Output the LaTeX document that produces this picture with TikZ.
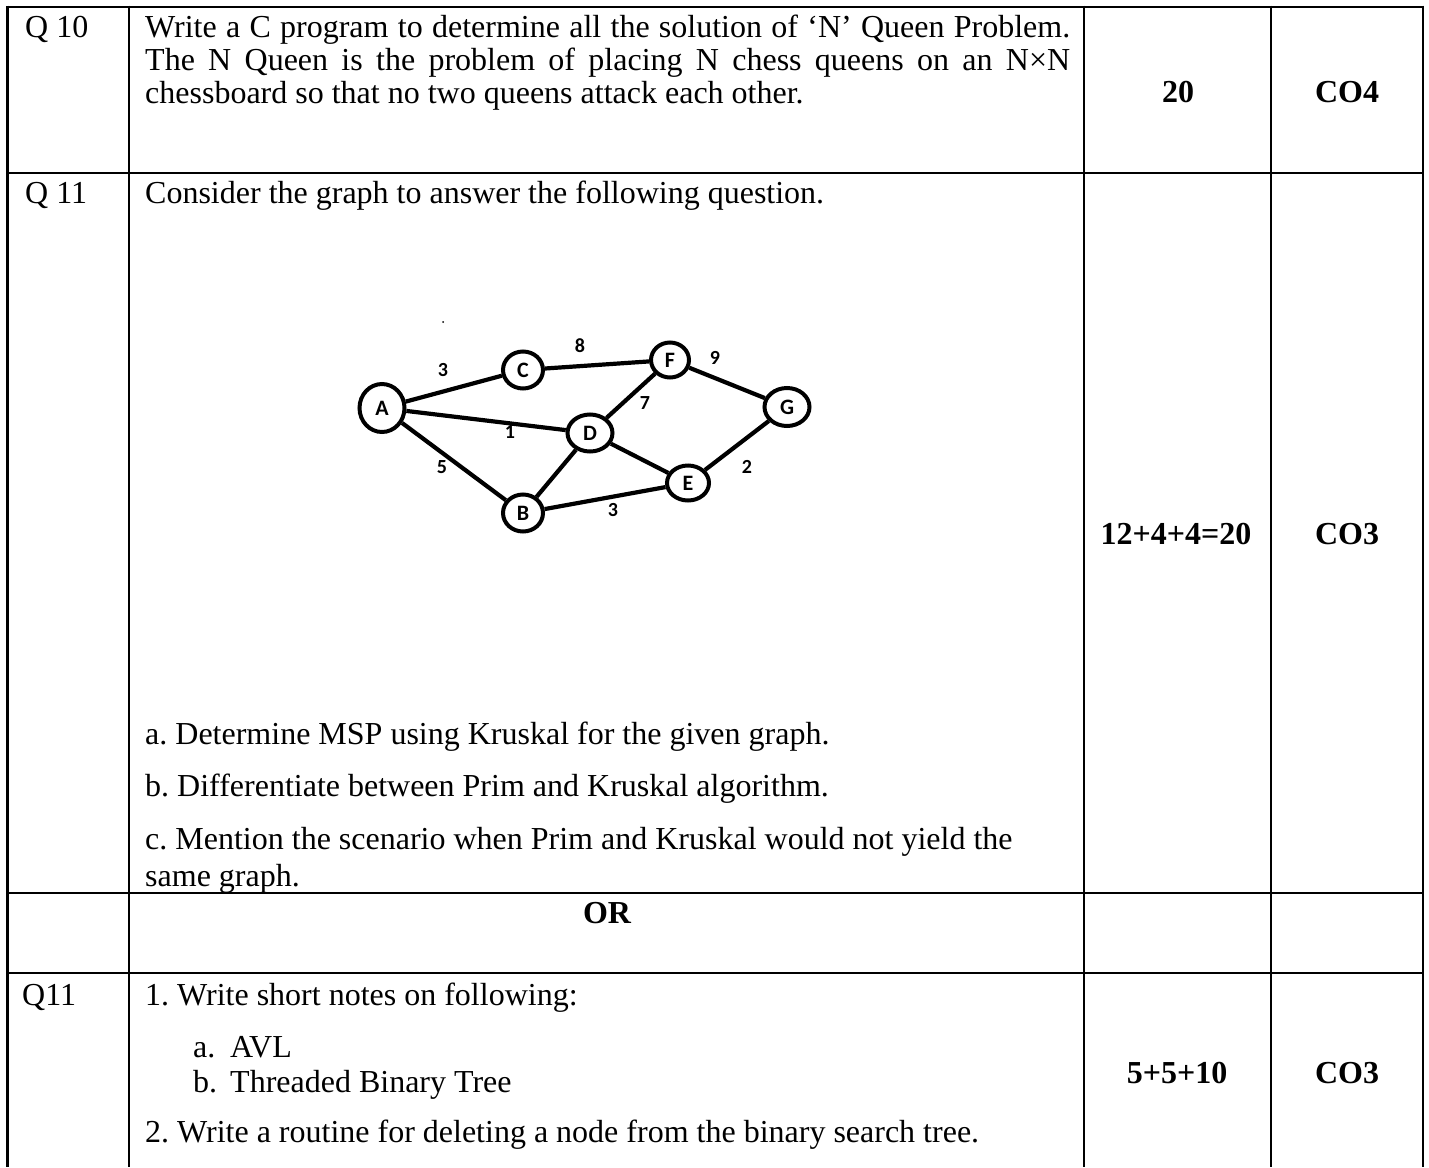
\documentclass[tikz,border=0pt]{standalone}
\usepackage{fontspec}
\setmainfont{Liberation Serif}
\newfontfamily\gfont{Carlito}
\usetikzlibrary{shapes.geometric}
\newcommand{\tr}{\fontsize{32}{33}\selectfont\frenchspacing}
\newcommand{\gr}{\gfont\bfseries\fontsize{20}{20}\selectfont}
\newcommand{\gv}{\gfont\bfseries\fontsize{22}{22}\selectfont}
\begin{document}
\begin{tikzpicture}[x=1pt,y=-1pt,
  tbl/.style={line width=2.7pt},
  txt/.style={anchor=base west,inner sep=0pt,font=\tr},
  bld/.style={anchor=base,inner sep=0pt,font=\tr\bfseries},
  vtx/.style={draw,ellipse,line width=4pt,inner sep=0pt,font=\gv},
  edg/.style={line width=4.2pt},
  wt/.style={inner sep=0pt,font=\gr}]
\useasboundingbox (0,0) rectangle (1429,1167);
% table grid
\draw[tbl] (7.5,7) -- (1423,7);
\draw[tbl] (7.5,173) -- (1423,173);
\draw[tbl] (7.5,893) -- (1423,893);
\draw[tbl] (7.5,973) -- (1423,973);
\draw[tbl] (7.5,5.7) -- (7.5,1167);
\draw[tbl] (129,5.7) -- (129,1167);
\draw[tbl] (1084,5.7) -- (1084,1167);
\draw[tbl] (1271,5.7) -- (1271,1167);
\draw[tbl] (1423,5.7) -- (1423,1167);
% row Q10
\node[txt] (q10) at (25,37) {Q 10};
\node[txt] (q10l1) at (145,37) {\makebox[925pt][s]{Write a C program to determine all the solution of ‘N’ Queen Problem.}};
\node[txt] (q10l2) at (145,70) {\makebox[925pt][s]{The N Queen is the problem of placing N chess queens on an N×N}};
\node[txt] (q10l3) at (145,103) {chessboard so that no two queens attack each other.};
\node[bld] (m10) at (1178,102) {20};
\node[bld] (c10) at (1347,102) {CO4};
% row Q11
\node[txt] (q11) at (25,203) {Q 11};
\node[txt] (q11l1) at (145,203) {Consider the graph to answer the following question.};
\node[txt] (q11a) at (145,744) {a. Determine MSP using Kruskal for the given graph.};
\node[txt] (q11b) at (145,796) {b. Differentiate between Prim and Kruskal algorithm.};
\node[txt] (q11c) at (145,849) {c. Mention the scenario when Prim and Kruskal would not yield the};
\node[txt] (q11d) at (145,886) {same graph.};
\node[bld] (m11) at (1176,544) {12+4+4=20};
\node[bld] (c11) at (1347,544) {CO3};
% OR row
\node[bld] (or) at (607,923) {OR};
% row Q11 alt
\node[txt] (q11x) at (22,1005) {Q11};
\node[txt] (n1) at (145,1005) {1. Write short notes on following:};
\node[txt] (na) at (193,1057) {a.};
\node[txt] (nat) at (230,1057) {AVL};
\node[txt] (nb) at (193,1092) {b.};
\node[txt] (nbt) at (230,1092) {Threaded Binary Tree};
\node[txt] (n2) at (145,1142) {2. Write a routine for deleting a node from the binary search tree.};
\node[bld] (m12) at (1177,1083) {5+5+10};
\node[bld] (c12) at (1347,1083) {CO3};
% graph
\node[vtx,minimum width=45pt,minimum height=48pt] (A) at (382,408) {A};
\node[vtx,minimum width=40pt,minimum height=37pt] (C) at (523,370) {C};
\node[vtx,minimum width=38pt,minimum height=35pt] (F) at (670,360) {F};
\node[vtx,minimum width=45pt,minimum height=38pt] (G) at (787,407) {G};
\node[vtx,minimum width=45pt,minimum height=37pt] (D) at (590,433) {D};
\node[vtx,minimum width=42pt,minimum height=35pt] (E) at (688,483) {E};
\node[vtx,minimum width=40pt,minimum height=37pt] (B) at (523,513) {B};
\draw[edg] (A) -- (C);
\draw[edg] (C) -- (F);
\draw[edg] (F) -- (G);
\draw[edg] (A) -- (D);
\draw[edg] (D) -- (F);
\draw[edg] (A) -- (B);
\draw[edg] (B) -- (D);
\draw[edg] (D) -- (E);
\draw[edg] (B) -- (E);
\draw[edg] (E) -- (G);
\node[wt] (wAC) at (443,370) {3};
\node[wt] (wCF) at (580,346) {8};
\node[wt] (wFG) at (715,358) {9};
\node[wt] (wDF) at (645,403) {7};
\node[wt] (wAD) at (510,432) {1};
\node[wt] (wAB) at (442,467) {5};
\node[wt] (wEG) at (747,467) {2};
\node[wt] (wBE) at (613,510) {3};
\fill (443,322) circle (1pt);
\end{tikzpicture}
\end{document}
